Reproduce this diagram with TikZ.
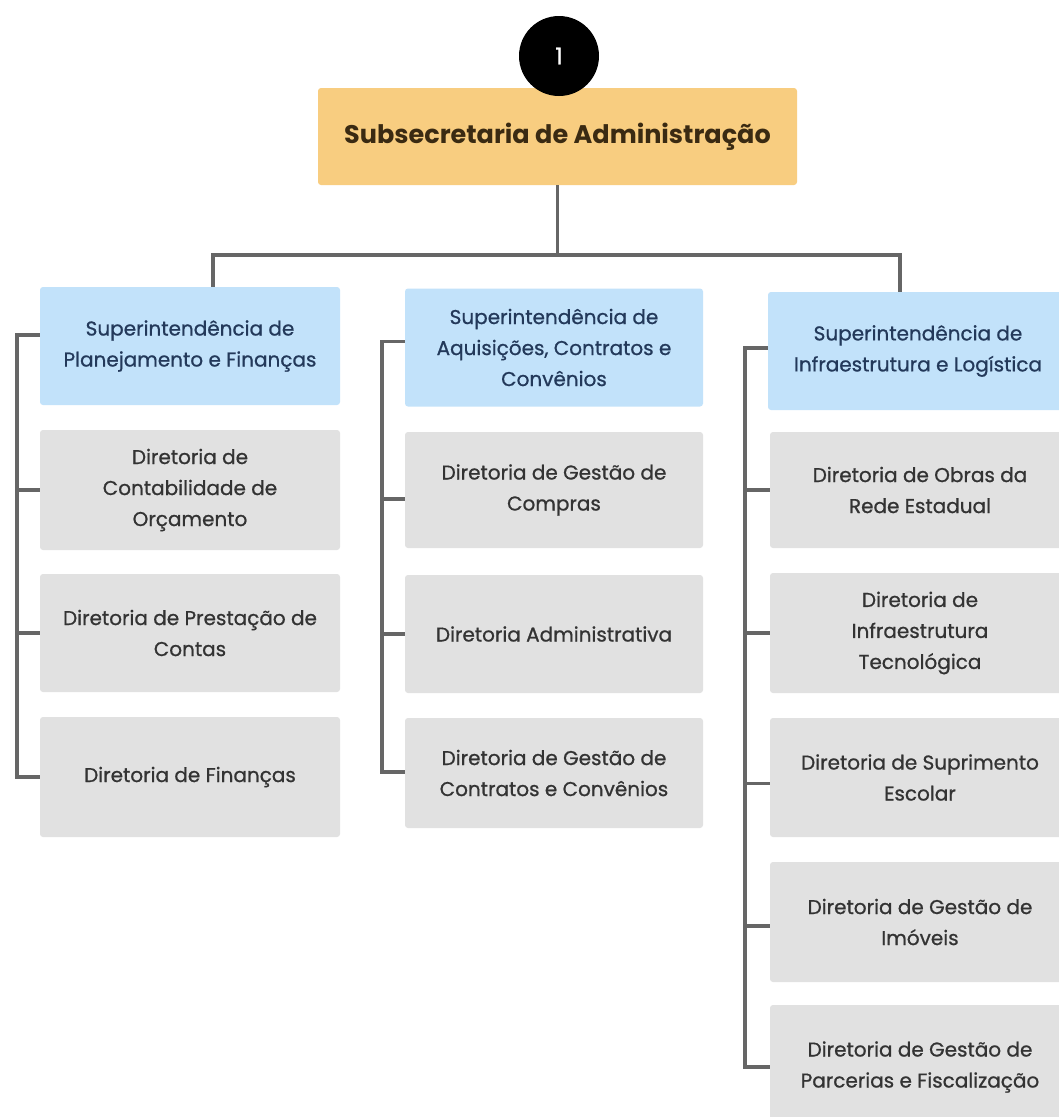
\documentclass[tikz,border=0pt]{standalone}
\usepackage{fontspec}
\setmainfont{Poppins}
\newfontfamily\boxfont[FakeBold=0.8]{Poppins}
\usetikzlibrary{calc}
\definecolor{orangebox}{HTML}{F8CD80}
\definecolor{bluebox}{HTML}{C2E2FA}
\definecolor{graybox}{HTML}{E1E1E1}
\definecolor{linegray}{HTML}{666666}
\definecolor{bluetext}{HTML}{23395A}
\definecolor{graytext}{HTML}{333333}
\definecolor{browntext}{HTML}{3A2A12}
\tikzset{
  box/.style={rectangle, rounded corners=3pt, align=center, inner sep=0pt,
    minimum width=300, font=\boxfont\fontsize{20}{31}\selectfont},
  supbox/.style={box, fill=bluebox, text=bluetext, minimum height=118},
  dirbox/.style={box, fill=graybox, text=graytext, minimum height=118},
  topbox/.style={rectangle, rounded corners=3pt, fill=orangebox, text=browntext,
    minimum width=479, minimum height=97, font=\fontsize{25.5}{30}\selectfont\bfseries},
  numcirc/.style={circle, fill=black, text=white, minimum size=80, inner sep=0pt,
    font=\boxfont\fontsize{23}{26}\selectfont},
  conn/.style={draw=linegray, line width=3.5pt},
}
\begin{document}
\begin{tikzpicture}[x=1pt, y=-1pt]
\useasboundingbox (0,0) rectangle (1059,1117);
\clip (0,0) rectangle (1059,1117);
\fill[white] (0,0) rectangle (1059,1117);

% top
\node[topbox] (top) at (557.5,136.5) {Subsecretaria de Administração};
\node[numcirc] (num) at (559,56) {1};

% left column
\node[supbox] (ls) at (190,346) {Superintendência de\\Planejamento e Finanças};
\node[dirbox, minimum height=120] (l1) at (190,490) {Diretoria de\\Contabilidade de\\Orçamento};
\node[dirbox] (l2) at (190,633) {Diretoria de Prestação de\\Contas};
\node[dirbox, minimum height=120] (l3) at (190,777) {Diretoria de Finanças};

% middle column
\node[supbox, minimum width=298] (ms) at (554,347.5) {Superintendência de\\Aquisições, Contratos e\\Convênios};
\node[dirbox, minimum width=298, minimum height=116] (m1) at (554,490) {Diretoria de Gestão de\\Compras};
\node[dirbox, minimum width=298] (m2) at (554,634) {Diretoria Administrativa};
\node[dirbox, minimum width=298, minimum height=110] (m3) at (554,773) {Diretoria de Gestão de\\Contratos e Convênios};

% right column
\node[supbox] (rs) at (918,351) {Superintendência de\\Infraestrutura e Logística};
\node[dirbox, minimum height=116] (r1) at (920,490) {Diretoria de Obras da\\Rede Estadual};
\node[dirbox, minimum height=120] (r2) at (920,633) {Diretoria de\\Infraestrutura\\Tecnológica};
\node[dirbox, minimum height=119] (r3) at (920,777.5) {Diretoria de Suprimento\\Escolar};
\node[dirbox, minimum height=120] (r4) at (920,922) {Diretoria de Gestão de\\Imóveis};
\node[dirbox, minimum height=124] (r5) at (920,1067) {Diretoria de Gestão de\\Parcerias e Fiscalização};

% top connectors
\coordinate (hub) at ($(top.south)+(0,70)$);
\draw[conn] (top.south) -- (hub);
\draw[conn] ($(ls.north)+(23,0)$) |- (hub) -| ($(rs.north)+(-18,0)$);

% left bracket
\coordinate (lbt) at ($(ls.west)+(-23,-11)$);
\draw[conn] ($(ls.west)+(0,-11)$) -- (lbt) |- (l3.west);
\draw[conn] (l1.west) -- (l1.west -| lbt);
\draw[conn] (l2.west) -- (l2.west -| lbt);

% middle bracket
\coordinate (mbt) at ($(ms.west)+(-23,-6)$);
\draw[conn] ($(ms.west)+(0,-6)$) -- (mbt) |- ($(m3.west)+(0,-1)$);
\draw[conn] ($(m1.west)+(0,9)$) -- ($(m1.west -| mbt)+(0,9)$);
\draw[conn] (m2.west) -- (m2.west -| mbt);

% right bracket
\coordinate (rbt) at ($(rs.west)+(-23,-3)$);
\draw[conn] ($(rs.west)+(0,-3)$) -- (rbt) |- (r5.west);
\draw[conn] (r1.west) -- (r1.west -| rbt);
\draw[conn] (r2.west) -- (r2.west -| rbt);
\draw[conn] ($(r3.west)+(0,6)$) -- ($(r3.west -| rbt)+(0,6)$);
\draw[conn] ($(r4.west)+(0,4)$) -- ($(r4.west -| rbt)+(0,4)$);
\end{tikzpicture}
\end{document}
